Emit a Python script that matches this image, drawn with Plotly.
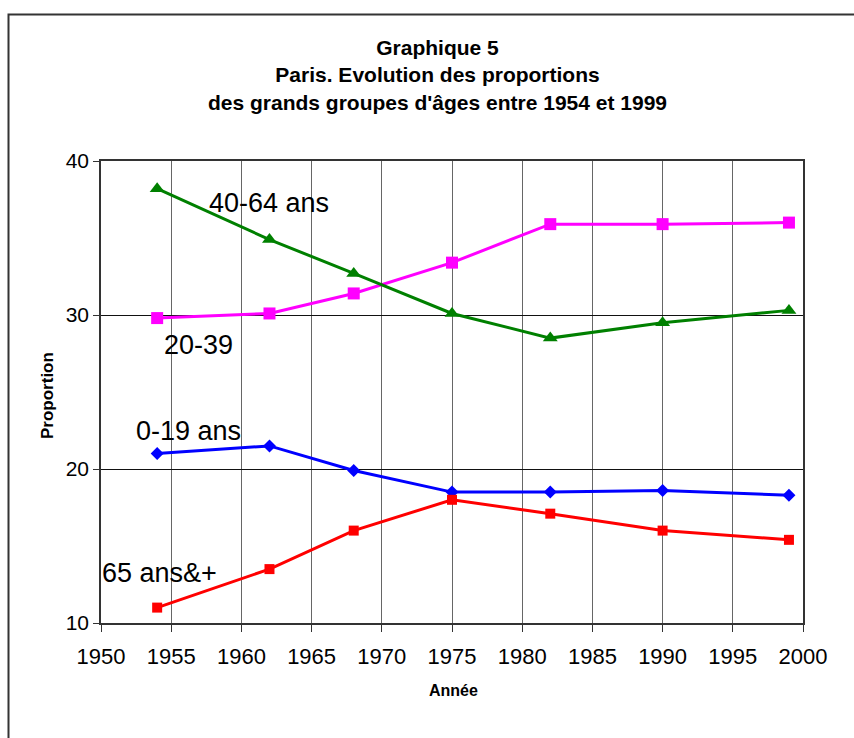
import plotly.graph_objects as go

years = [1954, 1962, 1968, 1975, 1982, 1990, 1999]
age_0_19 = [21.0, 21.5, 19.9, 18.5, 18.5, 18.6, 18.3]
age_20_39 = [29.8, 30.1, 31.4, 33.4, 35.9, 35.9, 36.0]
age_40_64 = [38.2, 34.9, 32.7, 30.1, 28.5, 29.5, 30.3]
age_65_plus = [11.0, 13.5, 16.0, 18.0, 17.1, 16.0, 15.4]

series = [
    ("0-19 ans", age_0_19, "#0000FF", "diamond", 10),
    ("20-39", age_20_39, "#FF00FF", "square", 12),
    ("40-64 ans", age_40_64, "#008000", "triangle-up", 13),
    ("65 ans&+", age_65_plus, "#FF0000", "square", 10),
]

font = "Liberation Sans, Arial, sans-serif"

fig = go.Figure()
for name, vals, color, sym, size in series:
    fig.add_trace(go.Scatter(
        x=years, y=vals, mode="lines+markers", name=name,
        line=dict(color=color, width=3),
        marker=dict(symbol=sym, size=size, color=color),
        showlegend=False,
    ))

# series labels (data coordinates)
labels = [
    ("40-64 ans", 1957.7, 37.27),
    ("20-39", 1954.5, 28.05),
    ("0-19 ans", 1952.5, 22.47),
    ("65 ans&+", 1950.05, 13.25),
]
annotations = []
for text, lx, ly in labels:
    annotations.append(dict(x=lx, y=ly, xref="x", yref="y", text=text,
                            showarrow=False, xanchor="left", yanchor="middle",
                            xshift=-2,
                            font=dict(family=font, size=27, color="black")))

title_lines = "<b>Graphique 5<br>Paris. Evolution des proportions<br>des grands groupes d'âges entre 1954 et 1999</b>"
annotations.append(dict(x=(437 - 101) / 702, y=1 + (161 - 75) / 462, xref="paper", yref="paper",
                        text=title_lines,
                        showarrow=False, xanchor="center", yanchor="middle",
                        font=dict(family=font, size=21, color="black")))
annotations.append(dict(x=(454 - 101) / 702, y=-(690 - 623) / 462, xref="paper", yref="paper",
                        text="<b>Année</b>", showarrow=False, xanchor="center", yanchor="middle",
                        font=dict(family=font, size=16, color="black")))
annotations.append(dict(x=(47 - 101) / 702, y=1 - (396 - 161) / 462, xref="paper", yref="paper",
                        text="<b>Proportion</b>", showarrow=False, xanchor="center", yanchor="middle",
                        textangle=-90, font=dict(family=font, size=17, color="black")))

fig.update_layout(
    width=854, height=738,
    margin=dict(l=101, r=51, t=161, b=115),
    paper_bgcolor="white", plot_bgcolor="white",
    annotations=annotations,
    font=dict(family=font, color="black"),
    shapes=[dict(type="rect", xref="paper", yref="paper",
                 x0=(8.5 - 101) / 702, x1=1.2, y0=-0.4, y1=1 - (14.5 - 161) / 462,
                 line=dict(color="#333333", width=2), layer="below")],
)
fig.update_xaxes(range=[1950, 2000], dtick=5, tick0=1950, showgrid=True, gridcolor="#666666",
                 gridwidth=1, ticks="outside", ticklen=7, tickcolor="#333333",
                 showline=True, linecolor="#333333", linewidth=2, mirror=True,
                 ticklabelstandoff=6,
                 tickfont=dict(family=font, size=22, color="black"), zeroline=False)
fig.update_yaxes(range=[10, 40], dtick=10, tick0=10, showgrid=True, gridcolor="#111111",
                 gridwidth=1, ticks="outside", ticklen=6, tickcolor="#333333",
                 showline=True, linecolor="#333333", linewidth=1.5, mirror=True,
                 tickfont=dict(family=font, size=21, color="black"), zeroline=False)

fig.write_html("out.html")
